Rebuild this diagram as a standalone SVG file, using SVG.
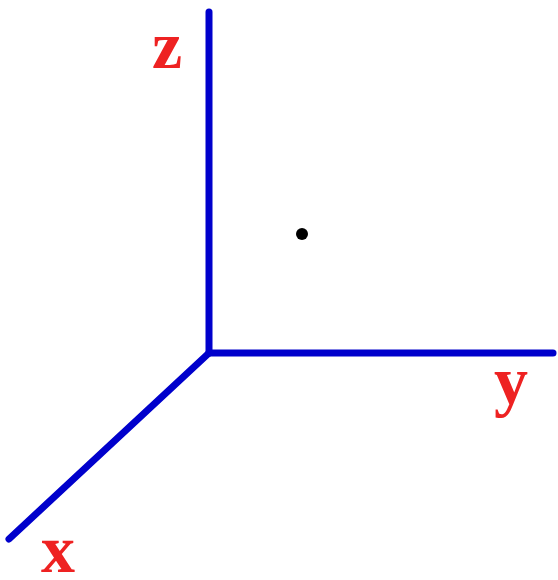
<svg xmlns="http://www.w3.org/2000/svg" width="558" height="580" viewBox="0 0 558 580">
<style>
.axis{stroke:#0000cc;stroke-width:7;fill:none;stroke-linecap:round}
.lbl{font-family:"Liberation Serif","Times New Roman",serif;font-weight:bold;font-size:68px;fill:#ee2222}
</style>
<rect width="558" height="580" fill="#fff"/>
<g id="axes">
<line class="axis" x1="209" y1="12" x2="209" y2="353"/>
<line class="axis" x1="209" y1="353" x2="553" y2="353"/>
<line class="axis" x1="209" y1="353" x2="9" y2="539"/>
</g>
<g id="point"><circle cx="302" cy="234" r="6" fill="#000"/></g>
<g id="label-z"><text class="lbl" x="152" y="68">z</text></g>
<g id="label-y"><text class="lbl" x="494" y="404">y</text></g>
<g id="label-x"><text class="lbl" x="41" y="572">x</text></g>
</svg>
